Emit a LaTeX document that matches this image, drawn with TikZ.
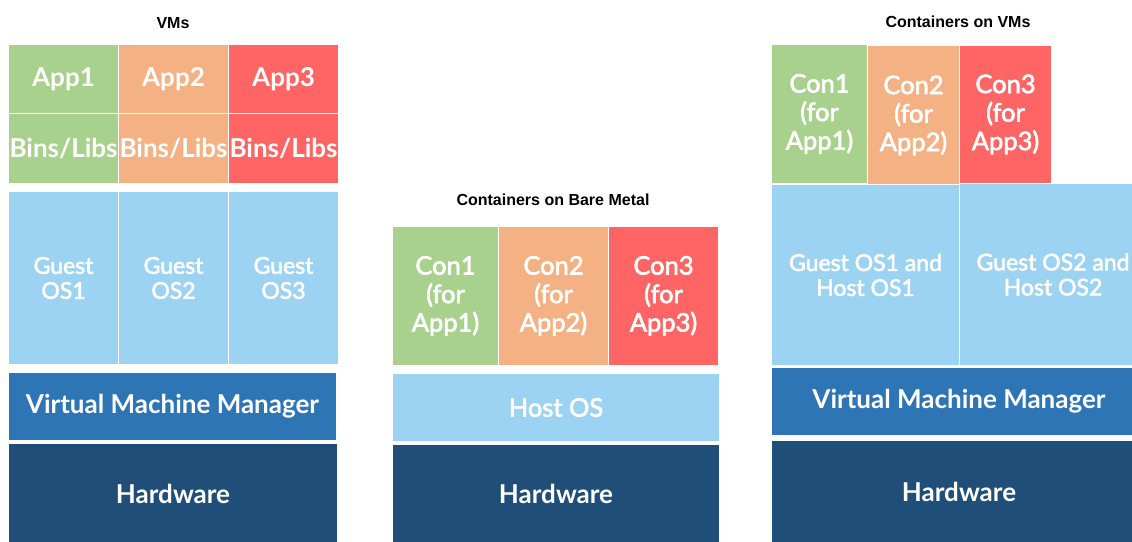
\documentclass[tikz,border=0pt]{standalone}
\usepackage{fontspec}
\setmainfont{Lato}
\newfontfamily\medfont[FakeBold=2.5]{Lato}
\newfontfamily\headfont{Liberation Sans}
\definecolor{appgreen}{HTML}{A9D18E}
\definecolor{apporange}{HTML}{F4B183}
\definecolor{appred}{HTML}{FF6565}
\definecolor{osblue}{HTML}{9DD3F2}
\definecolor{vmmblue}{HTML}{2E75B6}
\definecolor{hwblue}{HTML}{1F4E79}
\begin{document}
\begin{tikzpicture}[x=1pt,y=-1pt,
    box/.style={draw=white,line width=1pt,inner sep=0pt,anchor=north west,
      align=center,text=white},
    wh/.style 2 args={minimum width=#1pt,minimum height=#2pt},
    bold/.style={font=\fontsize{26}{28.5}\selectfont\bfseries},
    plain/.style={font=\medfont\fontsize{25.5}{28.5}\selectfont},
    small/.style={font=\medfont\fontsize{23}{25}\selectfont},
    heading/.style={anchor=base,font=\headfont\fontsize{16}{18}\selectfont\bfseries}]
  \useasboundingbox (0,0) rectangle (1132,541);

  % VMs
  \node[heading] (vmtitle) at (173,28) {VMs};
  \node[box,wh={110}{69},fill=appgreen,bold] (app1) at (8,44) {App1};
  \node[box,wh={110}{69},fill=apporange,bold] (app2) at (118,44) {App2};
  \node[box,wh={110}{69},fill=appred,bold] (app3) at (228,44) {App3};
  \node[box,wh={110}{70},fill=appgreen,bold] (bins1) at (8,113) {Bins/Libs};
  \node[box,wh={110}{70},fill=apporange,bold] (bins2) at (118,113) {Bins/Libs};
  \node[box,wh={110}{70},fill=appred,bold] (bins3) at (228,113) {Bins/Libs};
  \node[box,wh={110}{173},fill=osblue,small] (guest1) at (8,191) {Guest\\OS1};
  \node[box,wh={110}{173},fill=osblue,small] (guest2) at (118,191) {Guest\\OS2};
  \node[box,wh={110}{173},fill=osblue,small] (guest3) at (228,191) {Guest\\OS3};
  \node[box,wh={328}{68},fill=vmmblue,bold] (vmm) at (8,372) {Virtual Machine Manager};
  \node[box,wh={329}{100},fill=hwblue,bold] (hw) at (8,443) {Hardware};

  % containers on bare metal
  \node[heading] (bmtitle) at (553,205) {Containers on Bare Metal};
  \node[box,wh={106}{139},fill=appgreen,plain] (con1) at (392,226) {Con1\\(for\\App1)};
  \node[box,wh={110}{139},fill=apporange,plain] (con2) at (498,226) {Con2\\(for\\App2)};
  \node[box,wh={110}{139},fill=appred,plain] (con3) at (608,226) {Con3\\(for\\App3)};
  \node[box,wh={327}{68},fill=osblue,plain] (host) at (392,373) {Host OS};
  \node[box,wh={327}{99},fill=hwblue,bold] (hw2) at (392,444) {Hardware};

  % containers on VMs
  \node[heading] (cvtitle) at (958,27) {Containers on VMs};
  \node[box,wh={96}{139},fill=appgreen,plain] (vcon1) at (771,44) {Con1\\(for\\App1)};
  \node[box,wh={92}{140},fill=apporange,plain] (vcon2) at (867,45) {Con2\\(for\\App2)};
  \node[box,wh={92}{138},fill=appred,plain] (vcon3) at (959,45) {Con3\\(for\\App3)};
  \node[box,wh={188}{181},fill=osblue,small] (vguest1) at (771,184) {Guest OS1 and\\Host OS1};
  \node[box,wh={187}{182},fill=osblue,small] (vguest2) at (959,183) {Guest OS2 and\\Host OS2};
  \node[box,wh={375}{68},fill=vmmblue,bold] (vmm2) at (771,367) {Virtual Machine Manager};
  \node[box,wh={375}{103},fill=hwblue,bold] (hw3) at (771,440) {Hardware};
\end{tikzpicture}
\end{document}
